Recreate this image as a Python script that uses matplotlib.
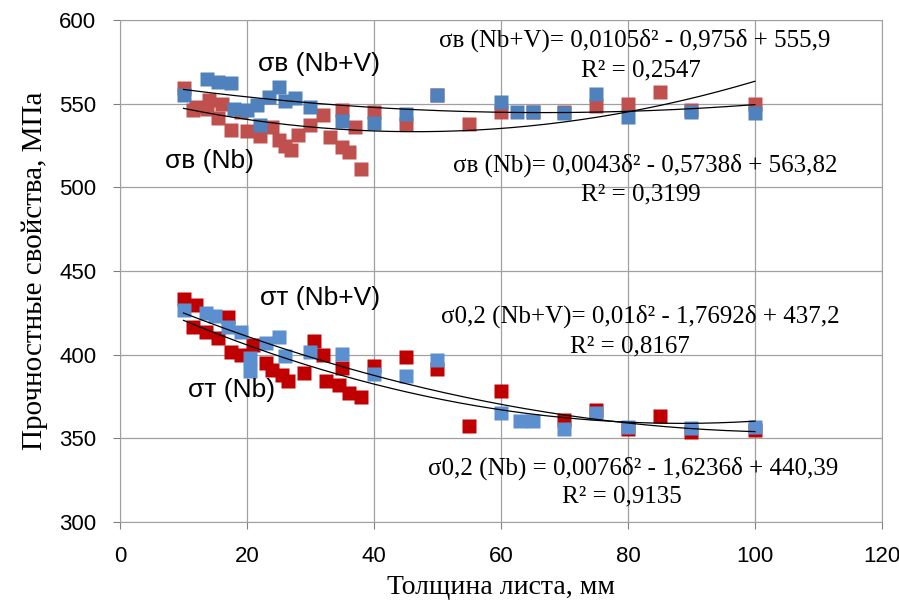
import matplotlib
matplotlib.use('Agg')
import matplotlib.pyplot as plt
import numpy as np

# --- data ---
# tensile strength, sigma_B, Nb steel
ub_nb_x = [10, 11.5, 12, 13.7, 14, 15.5, 16, 17.5, 19, 20, 22, 24, 25, 26, 27, 28, 30, 32,
           33, 35, 35, 36, 37, 38, 40, 45, 50, 55, 60, 65, 70, 75, 80, 85, 90, 100]
ub_nb_y = [559.5, 546, 548, 547, 552, 541.5, 550, 534, 545, 533.5, 530.5, 536, 528, 525, 522.5,
           531, 537, 543, 530, 546, 524, 521, 536, 511, 545, 538, 555, 538, 545, 545, 545,
           548.5, 550, 557, 546, 550]
# tensile strength, sigma_B, Nb+V steel
ub_nbv_x = [10, 13.7, 15.5, 17.5, 18, 20, 21.5, 22, 23.5, 25, 26, 27.5, 30, 35, 40, 45, 50,
            60, 62.5, 65, 70, 75, 80, 90, 100]
ub_nbv_y = [555, 564.5, 563, 562.5, 547, 546.5, 549.5, 537, 554, 560, 551.5, 553.5, 548,
            539.5, 538.5, 544, 555, 551, 545, 545, 544.5, 556, 542, 545, 544.5]
# yield strength, sigma_0.2, Nb steel
yt_nb_x = [10, 11.5, 12, 13.5, 15.5, 17, 17.5, 19, 21, 23, 24, 25.5, 26.5, 29, 30.5, 32,
           32.5, 34.5, 35, 36, 38, 40, 45, 50, 55, 60, 70, 75, 80, 85, 90, 100]
yt_nb_y = [433, 416.5, 429.5, 413.5, 410, 422.5, 401.5, 400, 406, 395, 391, 388, 384, 389,
           408, 400, 384, 382, 392, 377, 374.5, 393, 398.5, 391.5, 357.5, 378.5, 361, 367,
           355.5, 363.5, 353.5, 355]
# yield strength, sigma_0.2, Nb+V steel
yt_nbv_x = [10, 13.5, 15, 17, 19, 20.5, 20.5, 23, 25, 26, 30, 35, 40, 45, 50, 60, 63, 65,
            70, 75, 80, 90, 100]
yt_nbv_y = [427, 425, 423, 416.5, 413.5, 398, 390, 407, 410.5, 399, 401.5, 400.5, 388.5,
            387.5, 397, 365, 360.5, 360.5, 355.5, 365, 357, 356, 356.5]

# trendline coefficients as printed on the chart (a*d^2 + b*d + c)
fit_ub_nbv = [0.0105, -0.975, 555.9]
fit_ub_nb = [0.0043, -0.5738, 563.82]
fit_yt_nbv = [0.01, -1.7692, 437.2]
fit_yt_nb = [0.0076, -1.6236, 440.39]

serif = ['Liberation Serif', 'DejaVu Serif']
sans = ['Liberation Sans', 'DejaVu Sans']
narrow = ['Liberation Sans Narrow', 'Liberation Sans', 'DejaVu Sans']

fig = plt.figure(figsize=(8.99, 6.03), dpi=100)
ax = fig.add_axes([0.1335, 0.1343, 0.8475, 0.8325])

ms = 10.5
ax.plot(ub_nb_x, ub_nb_y, 's', ms=ms, color='#C0504D', mec='none', zorder=3)
ax.plot(ub_nbv_x, ub_nbv_y, 's', ms=ms, color='#4F81BD', mec='none', zorder=4)
ax.plot(yt_nb_x, yt_nb_y, 's', ms=ms, color='#C00000', mec='none', zorder=3)
ax.plot(yt_nbv_x, yt_nbv_y, 's', ms=ms, color='#5B8FD0', mec='none', zorder=4)

d = np.linspace(10, 100, 200)
for c in (fit_ub_nbv, fit_ub_nb, fit_yt_nbv, fit_yt_nb):
    ax.plot(d, np.polyval(c, d), color='black', lw=0.9, zorder=5)

ax.set_xlim(0, 120)
ax.set_ylim(300, 600)
ax.set_xticks(np.arange(0, 121, 20))
ax.set_yticks(np.arange(300, 601, 50))
ax.grid(True, color='#a0a0a0', lw=0.9)
ax.set_axisbelow(True)
for s in ax.spines.values():
    s.set_color('#a0a0a0')
ax.tick_params(colors='#808080', length=5, labelcolor='black')
ax.tick_params(axis='x', pad=12)
ax.tick_params(axis='y', pad=12)
for lbl in ax.get_xticklabels() + ax.get_yticklabels():
    lbl.set_family(narrow)
    lbl.set_fontsize(16)

ax.set_xlabel('Толщина листа, мм', family=serif, fontsize=20, labelpad=6)
ax.set_ylabel('Прочностные свойства, МПа', family=serif, fontsize=21, labelpad=8)

eq = dict(family=serif, fontsize=18, zorder=6, va='center', ha='center')
ax.text(81.1, 588, 'σв (Nb+V)= 0,0105δ² - 0,975δ + 555,9', **eq)
ax.text(82, 570, 'R² = 0,2547', **eq)
ax.text(82.8, 513, 'σв (Nb)= 0,0043δ² - 0,5738δ + 563,82', **eq)
ax.text(82, 496, 'R² = 0,3199', **eq)
ax.text(82, 423, 'σ0,2 (Nb+V)= 0,01δ² - 1,7692δ + 437,2', **eq)
ax.text(80.3, 405, 'R² = 0,8167', **eq)
ax.text(80.8, 332, 'σ0,2 (Nb) = 0,0076δ² - 1,6236δ + 440,39', **eq)
ax.text(79, 315, 'R² = 0,9135', **eq)

lab = dict(family=sans, fontsize=19, zorder=6, va='center')
ax.text(21.7, 574, 'σв (Nb+V)', **lab)
ax.text(7.1, 516, 'σв (Nb)', **lab)
ax.text(22, 434, 'σт (Nb+V)', **lab)
ax.text(10.7, 379, 'σт (Nb)', **lab)

fig.savefig('out.png', dpi=100)
